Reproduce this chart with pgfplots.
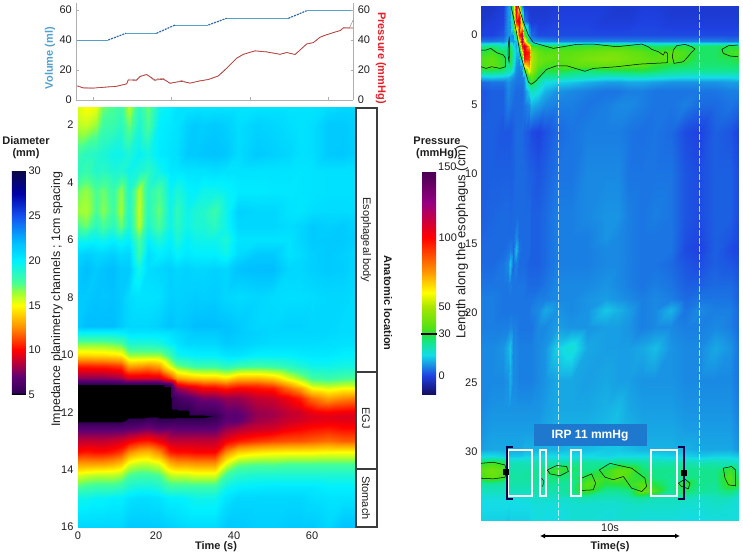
\documentclass[border=0pt]{standalone}
\usepackage{pgfplots}
\usepackage{fontspec}
\setmainfont{Liberation Sans}
\pgfplotsset{compat=1.18}
\usetikzlibrary{arrows.meta}
\newcommand\fs{\fontsize{11}{13}\selectfont}
\newcommand\fb{\fontsize{11}{13}\selectfont\bfseries}
\definecolor{volc}{RGB}{85,160,200}
\definecolor{volr}{RGB}{50,105,165}
\definecolor{prc}{RGB}{230,30,40}
\definecolor{lnc}{RGB}{200,40,40}
\definecolor{axg}{RGB}{175,175,175}
\definecolor{txc}{RGB}{30,30,30}
\definecolor{boxc}{RGB}{60,60,60}
\definecolor{irp}{RGB}{30,120,205}
\pgfplotsset{
 colormap={diam}{rgb255(5)=(0,0,0) rgb255(5.15)=(0,0,0) rgb255(5.25)=(50,0,85) rgb255(7)=(95,0,115) rgb255(8.5)=(180,0,60) rgb255(10)=(255,0,0) rgb255(12.5)=(255,140,0) rgb255(15)=(255,255,0) rgb255(16.5)=(150,255,60) rgb255(17.5)=(70,255,150) rgb255(20)=(0,240,255) rgb255(22)=(0,190,255) rgb255(25)=(20,80,240) rgb255(27.5)=(0,0,165) rgb255(30)=(10,10,70)},
 colormap={pres}{rgb255(0)=(20,10,90) rgb255(14)=(30,65,225) rgb255(29)=(20,220,230) rgb255(39)=(20,230,130) rgb255(44)=(40,225,60) rgb255(49)=(85,225,20) rgb255(64)=(170,230,0) rgb255(74)=(255,255,0) rgb255(89)=(255,150,0) rgb255(114)=(255,0,0) rgb255(139)=(150,0,130) rgb255(162)=(70,0,80)},
 every tick label/.append style={font=\fs,text=txc},
 /pgf/number format/assume math mode=true
}
% compact grid reader: x list in \xs, each row = y and one value per x
\def\walk#1 #2;#3 #4;{\xdef\acc{\acc(#1,\cury)[#3]}\def\tmp{#2}\ifx\tmp\empty\else\walk#2;#4;\fi}
\newcommand\grow[2]{\def\cury{#1}\expandafter\walk\xs;#2 ;}
% ---- diameter map (left)
\gdef\acc{}
\def\xs{0 2 4.5 6.5 9 11 13 15.7 18 20.8 23.5 25.5 28 30 32 35 38 41 46 50 54 57 60 64 68 71 }
\grow{1.36}{15.5 15 15.3 17 17.5 18 16 18.5 17 19.5 20 20.5 20.5 20.5 20.5 20.5 20.5 20.5 20.5 20.5 20.5 20.5 20.5 20.8 21 21}
\grow{2}{16 15.8 16.5 17.8 18 18.5 17 19 17.5 20 20.3 20.5 21.2 21.5 21.3 21.5 21.3 20.7 21.2 21 20.7 20.5 20.7 21.5 21.5 21.2}
\grow{3}{18 18.5 18.7 19 19.5 19.5 19 19.8 19.3 20.2 20.5 20.7 21.5 21.5 21.7 21.8 21.6 20.8 21.5 21.3 21 20.6 20.7 21.5 21.6 21.3}
\grow{3.6}{18.5 18 18.8 18.5 19 18.8 19.5 19 18.5 19.5 20.3 20.3 20.5 20.5 20.5 20.7 20.5 20.5 20.5 20.5 20.5 20.4 20.5 20.6 20.6 20.6}
\grow{4.3}{17 16.5 17.5 17 18 16.5 18.8 16 18.5 17.5 19.7 19 19.8 20 19.5 19.5 19.8 20.2 20.2 20.3 20.3 20.4 20.5 20.6 20.6 20.6}
\grow{5}{16.5 16.2 17.5 16.7 17.8 16.3 18.7 15.8 18.5 17 19.5 18.3 19.5 19 18.8 18 19.5 21.2 21 21 20.5 20.4 20.7 20.8 20.8 20.7}
\grow{5.5}{17.5 17 18.5 17.5 18.5 17 19 16 19 17.5 19.5 18.5 19.5 19 19 18.5 19.5 21 21 21 20.8 21 21.5 21.3 21.5 21.2}
\grow{6}{19.5 19.5 19.8 19.5 20 19.5 20 17.5 20 19 20 19 20 19.5 19.5 19.5 19 20.5 20.5 20.5 20.5 21 21.5 21.5 21.5 21.3}
\grow{6.5}{21 21.3 21 21 21.3 20.8 21 18 20.7 20 20.5 19.8 20.3 20 20 20 19.5 20.8 21.5 21.5 20.5 20.8 21.3 21.5 21.3 21}
\grow{7}{21.5 22 21.5 21.8 22 21.5 21.5 19.3 20.8 21 21.3 21 21.2 21 21 21.2 21 21.8 22 22 21 21 21.3 21.5 21.4 21}
\grow{8}{21.5 21.5 21.8 21.7 21.8 21.5 20.8 20.5 20.5 20.6 21.3 21.2 21.3 21.4 21.3 21.4 21 20.8 21 20.8 20.7 20.7 20.8 21 21 20.8}
\grow{9}{21.5 22 22 22 22 21.5 21 21 21 21.3 21.8 21.5 21.7 22 22 22 21.8 21.5 21 21 21.2 21.2 21 21 20.8 20.8}
\grow{9.2}{20 20 20 20 20 20.2 20.5 20.5 20.5 20.5 20.7 21 21.3 21.5 21.5 21.5 21.8 21.5 21.2 21 21 21 21 21 20.8 20.8}
\grow{9.6}{17 17 17 17 17.2 17.5 19 19 19 19.2 20 20.5 21 21 21 21 21.5 21.3 21 20.8 20.8 20.8 20.8 20.7 20.6 20.6}
\grow{10}{14.2 14.2 14.3 14.3 14.5 14.7 16.5 16.5 16.5 16.5 18 19.5 19.8 20 20 20 20.5 20.5 20 20 20 20.2 20.3 20.3 20 20}
\grow{10.4}{10.5 10.5 10.6 10.6 10.8 11 13 12.8 12.5 13 15.5 17 17.5 18 18 18 18.5 18 17.8 18 18.5 19 19.5 19.5 19.3 19.3}
\grow{10.8}{7.8 7.8 7.8 7.8 8 8.2 9.2 9.2 9.2 9.2 11 13 13.5 13.8 14 14 14.5 13.5 13.5 14 15.5 16.5 17.8 18 17.7 17.5}
\grow{11.05}{5 5 5 5 5 5 5 5 5 5 5.5 9.5 10.3 10.5 11 11 11.5 11 11 11.5 13 14.3 16 16.3 16 16}
\grow{11.15}{5 5 5 5 5 5 5 5 5 5 5 8 8.8 9.5 10 10 10.5 10 10.3 10.5 12 13 15 15.5 15 15}
\grow{11.5}{5 5 5 5 5 5 5 5 5 5 5 6 6.5 7 7.5 7.5 8 8 8.8 9 9.8 10.5 12 13 12.5 12.3}
\grow{12}{5 5 5 5 5 5 5 5 5 5 5 5 5 5.8 5.8 6 7 7 8 8.2 8.8 9 9.7 10 9.8 9.7}
\grow{12.15}{5 5 5 5 5 5 5 5 5 5 5 5 5 5 5 5.3 6.8 6.8 8 8.2 8.8 9 9.3 9.5 9.3 9.3}
\grow{12.3}{5 5 5 5 5 5 5.5 5.5 6 5.5 5.5 5.6 5.6 5.6 5.6 5.8 7 7 8.2 8.5 9 9.2 9.5 9.6 9.5 9.5}
\grow{12.6}{6.8 6.8 6.8 6.8 6.8 6.8 7 7.2 7.5 7 7.2 7 7 7 7 7 8 8.5 9 9.2 9.8 10 10.3 10.5 10.2 10.2}
\grow{13}{8.8 8.8 8.8 8.8 9 9.2 9.8 10.3 10.5 9.8 8.8 8.8 8.8 8.8 8.8 8.8 9.8 10.5 11 11.3 11.5 11.5 11.7 12 11.7 11.7}
\grow{13.4}{10.2 10.4 10.2 10.2 10.5 11 12.5 13.3 13.5 12.5 10.5 10.2 10.2 10 10 10 12.5 14 14.5 14.7 14.8 14.8 14.8 15 15 15}
\grow{13.8}{13 13 13 13 13.3 13.8 15.5 16 16 15.5 13.5 13 13 12.8 12.8 12.8 15.5 17 17.3 17.3 17.5 17.5 17.5 17.5 17.5 17.5}
\grow{14.2}{15.5 15.8 16 16 16 16.3 17.5 17.8 17.8 17.5 16 15.8 15.8 15.5 15.5 15.5 17.8 18.7 19 19 19 19 19 19 19 19}
\grow{14.6}{17.5 17.8 18 18 18 18.3 19 19.3 19.3 19 18 18 18 18 18 18 19.5 20 20.2 20.3 20.3 20.3 20.3 20 20 20}
\grow{15}{19.5 19.5 19.8 19.8 20 20 20.5 20.7 20.7 20.5 20 20 19.8 19.5 19.5 19.5 20.5 21 21 21 21 21 20.7 20.5 20.5 20.5}
\grow{16}{21 21 21 21 21 21 21.5 21.5 21.5 21.5 21.2 21 20.8 20.8 20.8 20.8 21.5 21.5 21.3 21.3 21.5 21.5 21.5 21 21.8 21.8}
\let\accleft\acc
% ---- pressure map (right)
\gdef\acc{}
\def\xs{0 .8 1.6 1.9 2.1 2.3 2.5 2.7 2.9 3.1 3.4 3.6 4.1 4.6 5.4 6.4 7.6 8.9 9.8 10.6 11.5 12.4 13.6 14.6 15.6 16.7 17.8 18.36 }
\grow{-2.09}{-3 -3 -1 8 10 40 110 60 6 -1 -2 -2 -2 -2 -1 -1 -1 -1 -2 -2 -1 -1 -2 -2 -2 -2 -2 -2}
\grow{-1}{-2 -1 0 8 8 25 95 115 35 6 0 -1 -1 -1 0 0 0 -1 -1 -1 0 0 -1 -1 -1 -1 -1 -1}
\grow{0}{0 0 2 8 8 7 30 95 115 40 10 4 1 1 1 1 1 1 1 1 1 1 1 1 1 1 1 1}
\grow{0.4}{5 5 6 12 9 8 12 60 120 70 15 10 8 7 6 6 6 6 6 6 6 6 6 6 6 6 5 5}
\grow{0.8}{24 26 20 22 28 15 10 20 100 115 70 34 31 30 30 31 32 33 33 32 30 27 28 30 27 27 30 28}
\grow{1.2}{30 33 28 22 31 20 12 12 60 105 95 48 38 35 36 36 38 40 40 38 36 33 36 34 27 27 33 34}
\grow{1.7}{34 37 31 22 31 20 10 8 25 95 90 52 40 38 36 38 41 43 42 40 38 36 36 33 27 27 28 30}
\grow{2.2}{33 37 32 22 28 18 8 6 10 60 75 50 37 33 33 36 36 37 37 36 35 31 28 27 26 26 26 26}
\grow{2.6}{27 27 25 20 20 14 7 6 7 25 60 48 32 29 30 27 25 27 28 28 29 27 24 23 23 23 23 24}
\grow{3}{13 14 13 12 10 8 6 5 6 8 35 38 28 22 22 20 19 17 17 18 18 17 16 15 15 15 15 16}
\grow{3.4}{4 5 5 8 7 6 5 5 5 7 25 33 22 16 14 13 11 9 9 10 10 9 8 8 8 8 9 9}
\grow{4}{2 3 3 7 6 5 4 4 4 6 14 20 16 11 8 7 6 5 5 6 6 5 5 5 5 5 6 6}
\grow{5}{2 3 3 6 5 4 4 4 4 5 7 11 9 7 6 6 5 6 7 7 6 5 5 6 4 4 5 4}
\grow{7}{3 3 2 2 2 3 4 4 4 3 2 1 0 1.5 4 5 6 6 6 5 4.5 5 4 1 0 3 2 0}
\grow{10}{3 3 3 3 3 3 4 4 4 4 3 3 2 3 5 5 7 7 7 5 5 5 5 2 1 3 3 1}
\grow{13}{3 3.5 4 4 3.5 4 4 4 4 4 4 3 3 4 6 6 7 8 8 6 5 6 5 2 1 3 3 1}
\grow{14.5}{3.5 4 4 4 4 4 7 4 4 4 4 3 3 4 6 6 6 8 7 6 5 5 5 1.5 0.5 3 2 0.5}
\grow{15.5}{4 4 4 5 6 4 12 5 4 4 4 3 3 4 6 6 6 7 7 6 5 5 5 1 0 3 1 0}
\grow{16.5}{4 4 5 7 13 4 6 4 4 4 3 3 3 4 6 6 6 7 7 6 5 5 4 2 1 3 2 1}
\grow{18}{5 5 5 5 6 5 5 5 5 5 4 4 4 5 7 7 7 8 7 6 5 6 5 3 3 4 4 2.5}
\grow{19}{6 6 5 5 5 5 5 5 5 5 5 5 6 6 7 7 8 9 8 7 6 7 6 4 5 5 5 3}
\grow{19.8}{6 6 5 5 5 5 5 5 5 5 5 6 7 10 8 7 8 13 11 9 6 7 11 5 7 6 6 4}
\grow{21}{6 6 6 6 7 6 6 5 5 5 5 5 7 7 9 8 8 9 9 8 6 7 7 6 6 7 6 4}
\grow{22.5}{7 7 8 11 13 7 7 6 6 6 6 6 7 8 14 17 10 9 9 9 10 12 8 7 7 10 8 5}
\grow{24.8}{7 7 7 8 11 7 7 6 6 6 6 6 7 8 10 10 9 10 9 9 8 8 8 7 7 7 7 5}
\grow{27}{7 8 8 8 8 8 8 8 8 8 8 8 8 9 10 10 10 11 12 10 9 9 9 8 8 8 8 6}
\grow{28.5}{8 9 9 9 9 9 9 9 9 9 9 9 9 10 11 11 11 12 12 11 10 10 10 9 9 9 9 7}
\grow{29.8}{9 10 10 10 10 10 10 10 10 11 11 11 11 11 11 12 12 13 13 12 11 11 11 11 10 10 10 8}
\grow{30.3}{15 15 14 13 13 13 13 13 13 14 14 14 15 15 15 15 15 14 15 15 15 15 14 14 13 14 14 13}
\grow{30.8}{30 33 30 21 20 20 20 20 20 20 20 20 21 22 22 23 23 23 26 25 23 21 21 21 20 21 20 18}
\grow{31.3}{36 40 36 22 21 21 21 21 21 21 22 22 23 27 34 27 24 31 37 36 27 24 24 24 24 24 33 22}
\grow{31.8}{33 38 34 23 22 22 22 22 22 22 22 23 23 24 27 25 31 32 37 33 30 24 23 24 24 24 36 27}
\grow{32.3}{21 22 21 21 21 21 21 21 21 21 21 21 22 23 22 23 36 29 30 32 36 29 23 32 24 23 34 30}
\grow{32.8}{19 19 19 19 19 19 19 19 19 19 19 20 21 21 21 24 33 23 23 25 38 34 22 28 23 22 26 22}
\grow{33.3}{16 16 16 16 16 16 16 16 16 16 17 17 18 18 18 18 20 19 19 20 22 20 19 20 18 19 19 17}
\grow{33.8}{15 15 15 15 15 15 15 15 15 15 15 16 16 16 16 17 17 17 17 18 18 18 18 17 17 18 17 16}
\grow{34.9}{14 14 14 13 14 14 14 14 14 14 14 15 16 15 15 17 17 16 17 17 16 16 16 15 15 16 16 16}
\let\accright\acc
\def\plotL#1{\addplot[surf,shader=interp,mesh/cols=26,point meta=explicit] coordinates {#1};}
\def\plotR#1{\addplot[surf,shader=interp,mesh/cols=28,point meta=explicit] coordinates {#1};}
\begin{document}
\begin{tikzpicture}[x=1pt,y=1pt]
\path[use as bounding box] (0,0) rectangle (743,557);
% top panel: volume
\begin{axis}[at={(76.3pt,457pt)},anchor=south west,scale only axis,width=277pt,height=97pt,
 xmin=-4.25,xmax=66.3,ymin=0,ymax=64.67,axis x line*=bottom,axis y line*=left,
 axis line style={draw=axg,-},xtick={0,20,40,60},xticklabels={},ytick={0,20,40,60},
 tick style={draw=axg},tick align=inside,major tick length=2.5pt,yticklabel style={xshift=-1pt}]
\addplot[volc,line width=0.7pt] coordinates {(-4,40)(3.9,40)};
\addplot[volr,line width=1.2pt,dash pattern=on 2pt off 1pt] coordinates {(3.9,40)(8.4,44.5)};
\addplot[volc,line width=0.7pt] coordinates {(8.4,44.5)(16.2,44.5)};
\addplot[volr,line width=1.2pt,dash pattern=on 2pt off 1pt] coordinates {(16.2,44.5)(20.9,50)};
\addplot[volc,line width=0.7pt] coordinates {(20.9,50)(29.4,50)};
\addplot[volr,line width=1.2pt,dash pattern=on 2pt off 1pt] coordinates {(29.4,50)(34.05,54.5)};
\addplot[volc,line width=0.7pt] coordinates {(34.05,54.5)(49.8,54.5)};
\addplot[volr,line width=1.2pt,dash pattern=on 2pt off 1pt] coordinates {(49.8,54.5)(54.4,59.5)};
\addplot[volc,line width=0.7pt] coordinates {(54.4,59.5)(66.3,59.5)};
\end{axis}
% top panel: pressure
\begin{axis}[at={(76.3pt,457pt)},anchor=south west,scale only axis,width=277pt,height=97pt,
 xmin=-4.25,xmax=66.3,ymin=0,ymax=64.67,axis x line=none,axis y line*=right,
 axis line style={draw=axg,-},ytick={0,20,40,60},
 tick style={draw=axg},tick align=inside,major tick length=2.5pt,yticklabel style={xshift=1pt}]
\addplot[gray,line width=0.4pt] coordinates {(-3.99,9.6)(-2.46,8.2)(.08,7.8)(2.63,8.6)(6.03,9.3)(8.58,10.9)(9,14)(11.13,13.6)(11.97,15.9)(13.67,17.2)(14.52,15.2)(15.8,12.6)(16.6,14.5)(17.92,14.4)(19.62,10.9)(22.59,13)(24.71,11.1)(27.26,12.9)(29.38,13.8)(31.93,16.2)(34.06,21.4)(36.6,28)(38.3,30.6)(41.27,32.9)(44.25,32.2)(47.64,30.6)(49.34,31.8)(51.46,30.2)(52.74,33.5)(54.44,37.5)(56.13,38.4)(57.83,42)(59.11,43.3)(61.23,45.1)(62.93,46.4)(63.78,48.3)(65.3,48)(66.3,53.5)};
\addplot[lnc,line width=0.6pt] coordinates {(-3.99,9.3)(-2.46,8)(.08,8)(2.63,8.4)(6.03,9.1)(8.58,10.7)(9,13.3)(11.13,13.1)(11.97,15.6)(13.67,16.9)(14.52,15.6)(15.8,13.3)(17.92,13.8)(19.62,11.3)(22.59,12.4)(24.71,11.3)(27.26,12.7)(29.38,13.6)(31.93,16)(34.06,21.1)(36.6,27.8)(38.3,30.4)(41.27,32.7)(44.25,32)(47.64,30.4)(49.34,31.6)(51.46,30.4)(52.74,33.3)(54.44,37.3)(56.13,38.2)(57.83,41.8)(59.11,43.1)(61.23,44.9)(62.93,46.2)(63.78,48)(66.16,48)};
\end{axis}
% left heat map
\begin{axis}[at={(78pt,30pt)},anchor=south west,scale only axis,width=277pt,height=420.3pt,
 xmin=0,xmax=71,ymin=1.36,ymax=16,y dir=reverse,
 xtick={0,20,40,60},ytick={2,4,...,16},axis line style={draw=none},tick style={draw=none},
 xticklabel style={yshift=-1.5pt},yticklabel style={xshift=-1pt},
 colormap name=diam,point meta min=5,point meta max=30,
 colorbar,colorbar style={at={(-0.2383,0.3141)},anchor=south west,width=14pt,height=224pt,
  ytick={5,10,...,30},axis line style={draw=none},tick style={draw=none},
  yticklabel style={font=\fs,xshift=-1pt}}]
\expandafter\plotL\expandafter{\accleft}
\end{axis}
% right heat map
\begin{axis}[at={(481pt,37pt)},anchor=south west,scale only axis,width=257pt,height=514pt,
 xmin=0,xmax=18.36,ymin=-2.09,ymax=34.9,y dir=reverse,
 xtick=\empty,ytick={0,5,...,30},axis line style={draw=none},tick style={draw=none},
 colormap name=pres,point meta min=-14,point meta max=148,
 colorbar,colorbar style={at={(-0.2296,0.2432)},anchor=south west,width=14pt,height=224pt,
  ytick={0,30,50,100},axis line style={draw=none},tick style={draw=none},
  yticklabel style={font=\fs,xshift=-1pt}}]
\expandafter\plotR\expandafter{\accright}
\addplot[white,opacity=.7,line width=0.5pt,dash pattern=on 6pt off 2pt] coordinates {(5.5,-2.09)(5.5,34.9)};
\addplot[white,opacity=.7,line width=0.5pt,dash pattern=on 6pt off 2pt] coordinates {(15.57,-2.09)(15.57,34.9)};
\addplot[black,line width=0.5pt] coordinates {(0,1.08)(.36,1.08)(.69,.96)(1.12,1.27)(1.6,1.44)(1.76,1.68)(1.76,2.28)(1.36,2.4)(.76,2.28)(.36,2.4)(0,2.28)};
\addplot[black,line width=0.5pt] coordinates {(2.02,.12)(1.95,.72)(1.93,1.44)(2,1.92)(2.05,1.08)(2.02,.12)};
\addplot[black,line width=0.5pt] coordinates {(2.14,-2.09)(2.31,-1.32)(2.55,-.12)(2.79,1.32)(3.07,2.28)(3.38,3.36)(3.57,3.55)(3.86,3.36)(4.69,2.47)(5.4,2.21)(6.12,2.21)(7.43,2.61)(8.02,2.4)(9.69,2.28)(11.36,2.09)(13.31,1.99)(13.33,1.32)(13.14,1.2)(13.02,1.44)(12.67,1.2)(12.19,1.03)(11.95,.84)(11.48,.65)(9.69,.84)(8.02,.65)(6.83,.67)(5.17,.96)(3.74,.55)(3.38,0)(3.02,-.96)(2.67,-2.09)};
\addplot[black,line width=0.5pt] coordinates {(13.74,1.08)(13.98,.77)(14.57,.67)(15.05,.84)(15.29,1.01)(14.98,1.32)(14.74,1.61)(14.45,1.92)(13.79,2.04)(13.67,1.56)(13.74,1.08)};
\addplot[black,line width=0.5pt] coordinates {(18.36,.72)(17.67,.77)(17.21,1.03)(17.31,1.32)(17.79,1.51)(18.36,1.56)};
\addplot[black,line width=0.5pt] coordinates {(0,30.82)(.88,30.74)(1.71,30.94)(1.83,31.41)(1.71,31.82)(.88,31.94)(0,31.89)};
\addplot[black,line width=0.5pt] coordinates {(4.33,31.89)(4.5,32.13)(4.4,32.49)};
\addplot[black,line width=0.5pt] coordinates {(4.74,31.3)(5.4,30.98)(6.12,31.05)(6.24,31.41)(5.64,31.72)(4.93,31.58)(4.74,31.3)};
\addplot[black,line width=0.5pt] coordinates {(7.19,31.89)(7.9,31.58)(8.19,32.25)(8.02,32.73)(7.19,32.77)};
\addplot[black,line width=0.5pt] coordinates {(8.45,31.3)(9.21,30.82)(9.93,30.99)(10.76,31.17)(11.71,31.89)(11.83,32.49)(11.48,32.85)(10.76,32.61)(10.17,31.77)(9.45,32)(8.86,31.82)(8.45,31.3)};
\addplot[black,line width=0.5pt] coordinates {(14.1,32.25)(14.57,31.96)(14.93,32.25)(14.81,32.65)(14.33,32.49)(14.1,32.25)};
\addplot[black,line width=0.5pt] coordinates {(17.31,31.17)(17.9,31.05)(18.19,31.3)(18.19,32.44)(17.67,32.37)(17.43,31.89)(17.31,31.17)};
\end{axis}
% annotations in picture pixels (y downward)
\begin{scope}[shift={(0pt,557pt)},x=1pt,y=-1pt]
\node[font=\fb,text=volc,rotate=90] at (50,58) {Volume (ml)};
\node[font=\fb,text=prc,rotate=-90] at (381,58) {Pressure (mmHg)};
\node[font=\fontsize{12.4}{15}\selectfont,text=txc,rotate=90] at (57,299) {Impedance planimetry channels ; 1cm spacing};
\node[font=\fb,text=txc] at (216,547) {Time (s)};
\draw[boxc,line width=1.5pt] (356,108) rectangle (377,527) (356,372)--(377,372) (356,469)--(377,469);
\node[font=\fs,text=txc,rotate=-90] at (366,240) {Esophageal body};
\node[font=\fs,text=txc,rotate=-90] at (366,418) {EGJ};
\node[font=\fs,text=txc,rotate=-90] at (366,498) {Stomach};
\node[font=\fb,text=txc,rotate=-90] at (388,303) {Anatomic location};
\node[font=\fb,text=txc] at (26,141) {Diameter};
\node[font=\fb,text=txc] at (26,154) {(mm)};
\node[font=\fb,text=txc] at (437,141) {Pressure};
\node[font=\fb,text=txc] at (437,154) {(mmHg)};
\node[font=\fs,text=txc,anchor=west,inner sep=0pt] at (438,167) {150};
\draw[black,line width=1.4pt] (421,334)--(437,334);
\node[font=\fontsize{13}{15}\selectfont,text=txc,rotate=90] at (462,242) {Length along the esophagus (cm)};
% IRP annotation
\fill[irp] (534,424) rectangle (647,446);
\node[font=\fontsize{12}{14}\selectfont\bfseries,text=white] at (590,436) {IRP 11 mmHg};
\draw[white,line width=1.5pt] (508,450) rectangle (532,496) (540,450) rectangle (546,496) (571,450) rectangle (581,496) (651,450) rectangle (677,496);
\draw[black!70!blue,line width=1.1pt] (513,447)--(507,447)--(507,499)--(513,499);
\draw[black!70!blue,line width=1.1pt] (678,447)--(684,447)--(684,499)--(678,499);
\fill[black] (503,469) rectangle (509,475);
\fill[black] (681,470) rectangle (687,476);
\draw[{Latex[length=5pt,width=5pt]}-{Latex[length=5pt,width=5pt]},black,line width=1.1pt] (540,536)--(680,536);
\node[font=\fs,text=txc] at (610,528) {10s};
\node[font=\fb,text=txc] at (610,547) {Time(s)};
\end{scope}
\end{tikzpicture}
\end{document}
